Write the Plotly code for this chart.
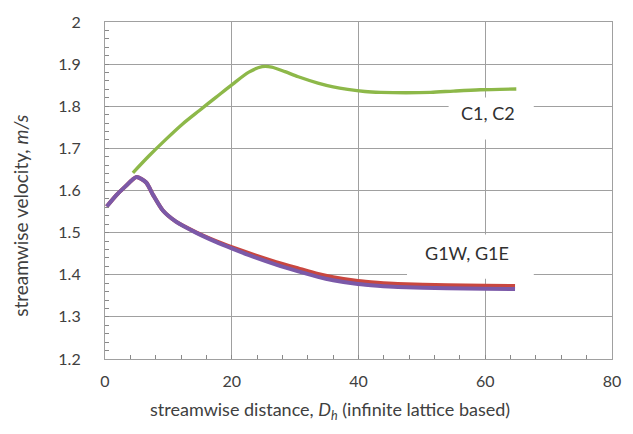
import plotly.graph_objects as go

# Streamwise distance (in D_h) and velocity samples for each channel group
x_c = [4.4, 7.0, 9.65, 12.25, 14.9, 17.5, 20.1, 22.7, 24.8, 26.3, 28.4, 30.5,
       33.6, 36.0, 38.3, 41.0, 43.5, 47.5, 51.4, 55.0, 59.2, 64.9]
v_c = [1.642, 1.683, 1.722, 1.758, 1.790, 1.821, 1.852, 1.881, 1.894, 1.893,
       1.882, 1.870, 1.855, 1.846, 1.840, 1.835, 1.833, 1.832, 1.833, 1.836,
       1.839, 1.841]

x_g = [0.27, 1.8, 3.1, 4.96, 6.5, 7.6, 9.1, 11.2, 14.35, 17.5, 20.1, 23.7,
       27.0, 30.5, 33.6, 36.0, 39.9, 43.0, 46.2, 54.0, 60.0, 64.7]
v_g1w = [1.562, 1.589, 1.608, 1.632, 1.619, 1.589, 1.553, 1.526, 1.500, 1.478,
         1.462, 1.441, 1.424, 1.408, 1.395, 1.387, 1.378, 1.374, 1.371, 1.368,
         1.367, 1.366]
v_g1e = [1.562, 1.589, 1.608, 1.632, 1.619, 1.589, 1.553, 1.526, 1.501, 1.480,
         1.465, 1.446, 1.430, 1.415, 1.402, 1.394, 1.385, 1.381, 1.378, 1.375,
         1.374, 1.373]

x_ticks = [0, 20, 40, 60, 80]
y_ticks = [1.2, 1.3, 1.4, 1.5, 1.6, 1.7, 1.8, 1.9, 2.0]
y_tick_text = ["1.2", "1.3", "1.4", "1.5", "1.6", "1.7", "1.8", "1.9", "2"]

GREEN = "#8DB849"
RED = "#C9473F"
PURPLE = "#7B59A8"
GRID = "#a0a0a0"
TEXT = "#404040"
FONT = "Lato"

W, H = 633, 434
L, R, T, B = 105, 16, 15, 75
pw, ph = W - L - R, H - T - B
X0, X1, Y0, Y1 = 0, 80, 1.2, 2.0


def px_to_data(px, py):
    return (X0 + (px - L) / pw * (X1 - X0), Y1 - (py - T) / ph * (Y1 - Y0))


def px_to_paper(px, py):
    return ((px - L) / pw, 1 - (py - T) / ph)


fig = go.Figure()
fig.add_trace(go.Scatter(x=x_c, y=v_c, mode="lines", name="C1, C2",
                         line=dict(color=GREEN, width=3.4, shape="spline", smoothing=0.8)))
fig.add_trace(go.Scatter(x=x_g, y=v_g1e, mode="lines", name="G1E",
                         line=dict(color=RED, width=4, shape="spline", smoothing=0.6)))
fig.add_trace(go.Scatter(x=x_g, y=v_g1w, mode="lines", name="G1W",
                         line=dict(color=PURPLE, width=4, shape="spline", smoothing=0.6)))

axis_common = dict(
    showgrid=True, gridcolor=GRID, gridwidth=1.2,
    showline=True, linecolor=GRID, linewidth=1.2, mirror=True,
    zeroline=False, ticks="inside", ticklen=4, tickcolor="#888888",
    tickfont=dict(family=FONT, size=16, color=TEXT),
)

fig.update_xaxes(
    range=[X0, X1], tickvals=x_ticks,
    minor=dict(dtick=4, ticks="inside", ticklen=4, tickcolor="#888888", showgrid=False),
    ticklabelstandoff=8,
    **axis_common,
)
fig.update_yaxes(
    range=[Y0, Y1], tickvals=y_ticks, ticktext=y_tick_text,
    minor=dict(dtick=0.02, ticks="inside", ticklen=4, tickcolor="#888888", showgrid=False),
    ticklabelstandoff=20,
    **axis_common,
)

# White label boxes (pixel extents) that interrupt the gridlines
boxes = [(452, 92, 538, 135), (410, 232, 538, 277)]
shapes = []
for (x_a, y_a, x_b, y_b) in boxes:
    xa, ya = px_to_data(x_a, y_a)
    xb, yb = px_to_data(x_b, y_b)
    shapes.append(dict(type="rect", xref="x", yref="y", x0=xa, x1=xb, y0=yb, y1=ya,
                       fillcolor="white", line=dict(width=0), layer="above"))

cx, cy = px_to_data(492, 108)
gx, gy = px_to_data(471, 251)
tx, ty = px_to_paper(332, 412)
yx, yy = px_to_paper(20, 212)

fig.update_layout(
    width=W, height=H,
    margin=dict(l=L, r=R, t=T, b=B),
    paper_bgcolor="white", plot_bgcolor="white",
    showlegend=False,
    font=dict(family=FONT, color=TEXT),
    shapes=shapes,
    annotations=[
        dict(text="C1, C2", x=cx, y=cy, xref="x", yref="y",
             xanchor="center", yanchor="middle", showarrow=False,
             font=dict(family=FONT, size=18, color="#303030")),
        dict(text="G1W, G1E", x=gx, y=gy, xref="x", yref="y",
             xanchor="center", yanchor="middle", showarrow=False,
             font=dict(family=FONT, size=18, color="#303030")),
        dict(text="streamwise distance, <i>D<sub>h</sub></i> (infinite lattice based)",
             x=tx, y=ty, xref="paper", yref="paper",
             xanchor="center", yanchor="middle", showarrow=False,
             font=dict(family=FONT, size=18, color=TEXT)),
        dict(text="streamwise velocity, <i>m/s</i>",
             x=yx, y=yy, xref="paper", yref="paper",
             xanchor="center", yanchor="middle", showarrow=False, textangle=-90,
             font=dict(family=FONT, size=19, color=TEXT)),
    ],
)

fig.write_html("out.html")
